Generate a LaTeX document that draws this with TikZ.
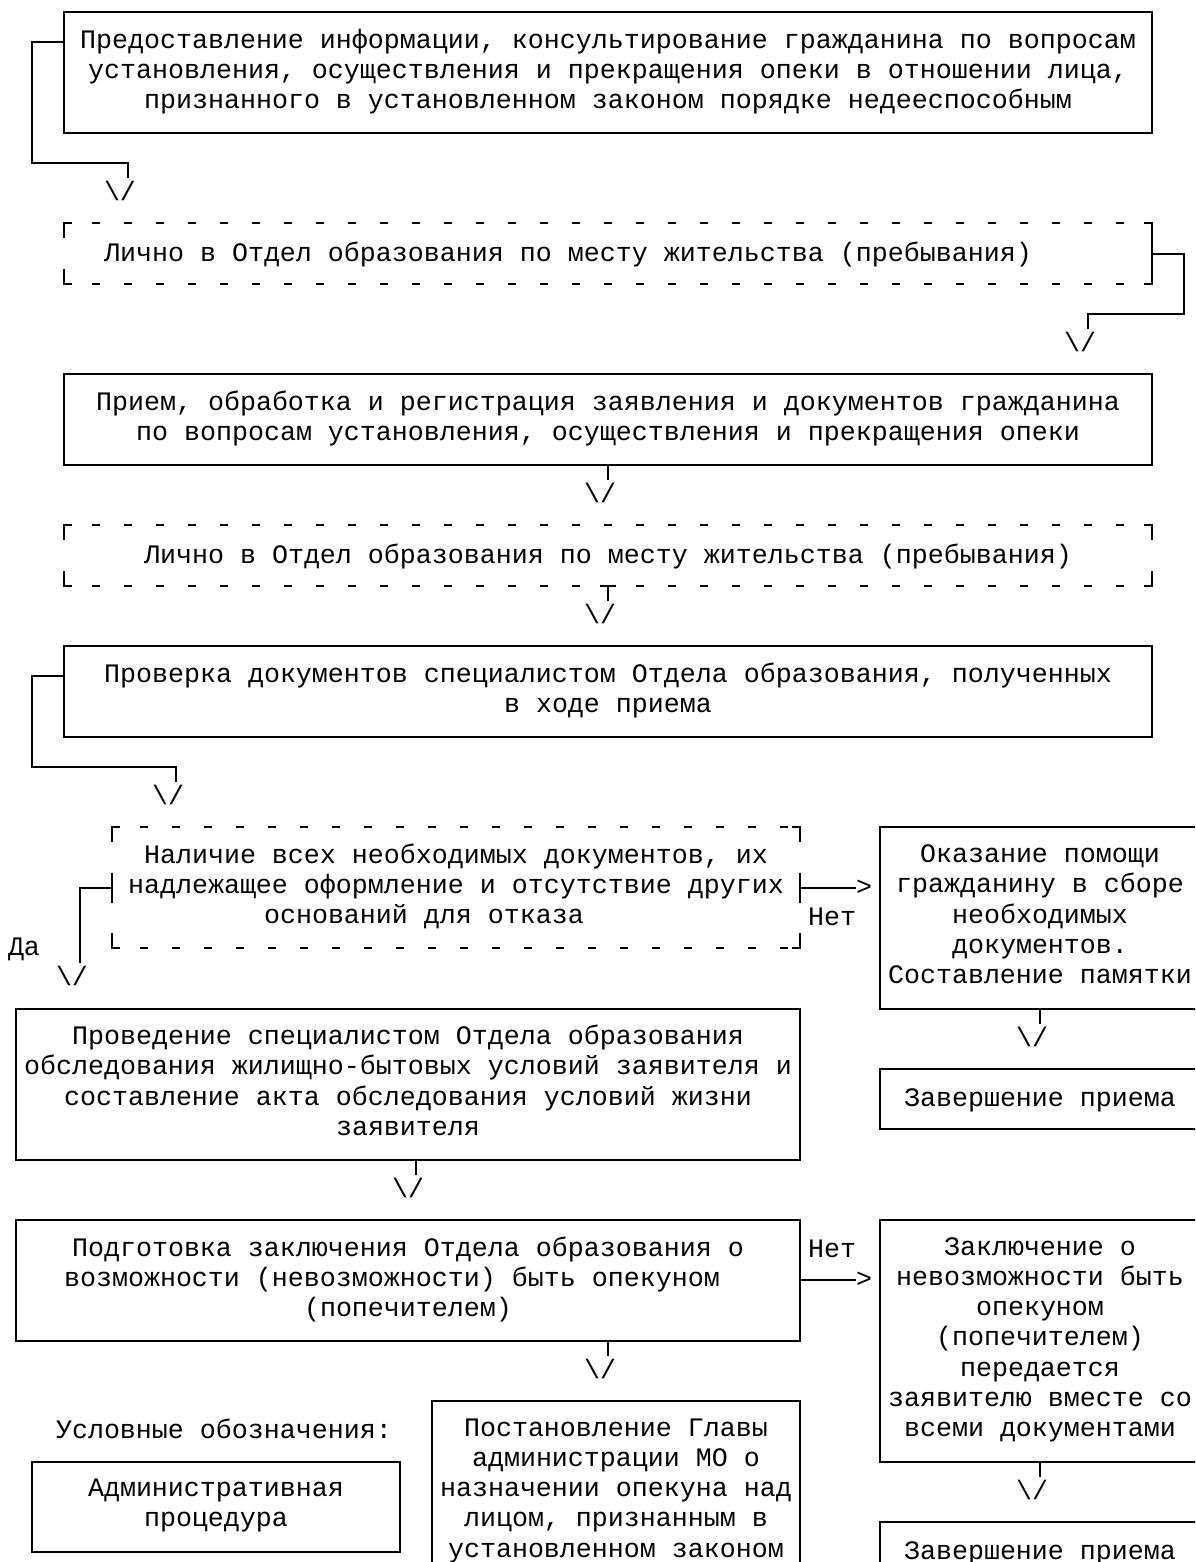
\documentclass[tikz,border=0pt]{standalone}
\usepackage{fontspec}
\setmonofont{Liberation Mono}
\newcommand\boxfont{\ttfamily\fontsize{13.33pt}{15.1pt}\selectfont}
\newcommand\rowstrut{\rule[-3.8pt]{0pt}{15.1pt}}
\newlength\chw
\setlength\chw{8pt}
\newcommand\pad[1]{\makebox[#1\chw]{}}
% corners and hyphen rows of a dashed frame
\newcommand\dashframe[1]{%
 \draw[wire] ([yshift=-7.55pt]#1.north west) |- ([xshift=4pt]#1.north west);
 \draw[wire] ([yshift=-7.55pt]#1.north east) |- ([xshift=-4pt]#1.north east);
 \draw[wire] ([yshift=7.55pt]#1.south west) |- ([xshift=4pt]#1.south west);
 \draw[wire] ([yshift=7.55pt]#1.south east) |- ([xshift=-4pt]#1.south east);
 \draw[hyph] (#1.north west) -- (#1.north east);
 \draw[hyph] (#1.south west) -- (#1.south east);
}
\tikzset{
 wire/.style={line width=1pt, black},
 hyph/.style={line width=0.9pt, dash pattern=on 4pt off 12pt, dash phase=2pt},
 cells/.style 2 args={minimum width=#1*8pt, minimum height=#2*15.1pt},
 box/.style={draw, wire, inner sep=0pt, outer sep=0pt, align=center, font=\boxfont,
  execute at begin node=\rowstrut, execute at end node=\rowstrut},
 dbox/.style={box, draw=none},
 glyph/.style={inner sep=0pt, outer sep=0pt, font=\boxfont, execute at begin node=\rowstrut},
}

\begin{document}
\begin{tikzpicture}[x=8pt, y=-15.1pt]
\useasboundingbox (-1,-0.397) rectangle (73.6875,51.325);
\clip (-1,-0.397) rectangle (73.6875,51.325);
\fill[white] (-1,-0.397) rectangle (73.6875,51.325);

\node[box, cells={68}{4}] (info) at (37,2) {Предоставление информации, консультирование гражданина по вопросам\\%
установления, осуществления и прекращения опеки в отношении лица,\\%
признанного в установленном законом порядке недееспособным};
\node[dbox, cells={68}{2}] (visit1) at (37,8) {Лично в Отдел образования по месту жительства (пребывания)\pad{5}};
\dashframe{visit1}
\node[box, cells={68}{3}] (reg) at (37,13.5) {Прием, обработка и регистрация заявления и документов гражданина\\%
по вопросам установления, осуществления и прекращения опеки};
\node[dbox, cells={68}{2}] (visit2) at (37,18) {Лично в Отдел образования по месту жительства (пребывания)};
\dashframe{visit2}
\node[box, cells={68}{3}] (check) at (37,22.5) {Проверка документов специалистом Отдела образования, полученных\\%
в ходе приема};
\node[dbox, cells={43}{4}] (docs) at (27.5,29) {Наличие всех необходимых документов, их\\%
надлежащее оформление и отсутствие других\\%
оснований для отказа\pad{4}};
\dashframe{docs}
\node[box, cells={20}{6}] (help) at (64,30) {Оказание помощи\\%
гражданину в сборе\\%
необходимых\\%
документов.\\%
Составление памятки};
\node[box, cells={20}{2}] (end1) at (64,36) {Завершение приема};
\node[box, cells={49}{5}] (survey) at (24.5,35.5) {Проведение специалистом Отдела образования\\%
обследования жилищно-бытовых условий заявителя и\\%
составление акта обследования условий жизни\\%
заявителя};
\node[box, cells={49}{4}] (concl) at (24.5,42) {Подготовка заключения Отдела образования о\\%
возможности (невозможности) быть опекуном\pad{2}\\%
(попечителем)};
\node[box, cells={20}{8}] (refuse) at (64,44) {Заключение о\\%
невозможности быть\\%
опекуном\\%
(попечителем)\\%
передается\\%
заявителю вместе со\\%
всеми документами};
\node[box, cells={20}{2}] (end2) at (64,51) {Завершение приема};
\node[box, cells={23}{6}] (decree) at (37.5,49) {Постановление Главы\\%
администрации МО о\\%
назначении опекуна над\\%
лицом, признанным в\\%
установленном законом};
\node[glyph] (legend) at (13,47) {Условные обозначения:};
\node[box, cells={23}{3}] (legbox) at (12.5,49.5) {Административная\\%
процедура};

\foreach \n/\c/\r in {a1/6.5/6, a2/66.5/11, a3/36.5/16, a4/36.5/20, a5/9.5/26,
  a6/3.5/32, a7/63.5/34, a8/24.5/39, a9/36.5/45, a10/63.5/49} {
 \node[glyph] (\n) at (\c,\r) {\textbackslash/};
 \coordinate (\n t) at ([xshift=4pt]\n.north);
}
\node[glyph] (gt1) at (53,29) {>};
\node[glyph] (gt2) at (53,42) {>};
\node[glyph] (no1) at (51,30) {Нет};
\node[glyph] (no2) at (51,41) {Нет};
\node[glyph] (yes) at (0.5,31) {Да};

\draw[wire] ([yshift=15.1pt]info.west) -| (1,5) -| (a1t);
\draw[wire] (visit1.east) -| (73,10) -| (a2t);
\draw[wire] (visit1.east) ++(0,7.55pt) -- ++(0,-15.1pt);
\draw[wire] (a3t |- reg.south) -- (a3t);
\draw[wire] (a4t |- visit2.south) -- (a4t);
\draw[wire] (a4t |- visit2.south) ++(-4pt,0) -- ++(8pt,0);
\draw[wire] ([yshift=7.55pt]check.west) -| (1,25) -| (a5t);
\draw[wire] (docs.west) -| (a6t);
\draw[wire] (docs.west) ++(0,7.55pt) -- ++(0,-15.1pt);
\draw[wire] (docs.east) -- (gt1.west);
\draw[wire] (docs.east) ++(0,7.55pt) -- ++(0,-15.1pt);
\draw[wire] (a7t |- help.south) -- (a7t);
\draw[wire] (a8t |- survey.south) -- (a8t);
\draw[wire] (a9t |- concl.south) -- (a9t);
\draw[wire] (concl.east) -- (gt2.west);
\draw[wire] (a10t |- refuse.south) -- (a10t);
\end{tikzpicture}
\end{document}
